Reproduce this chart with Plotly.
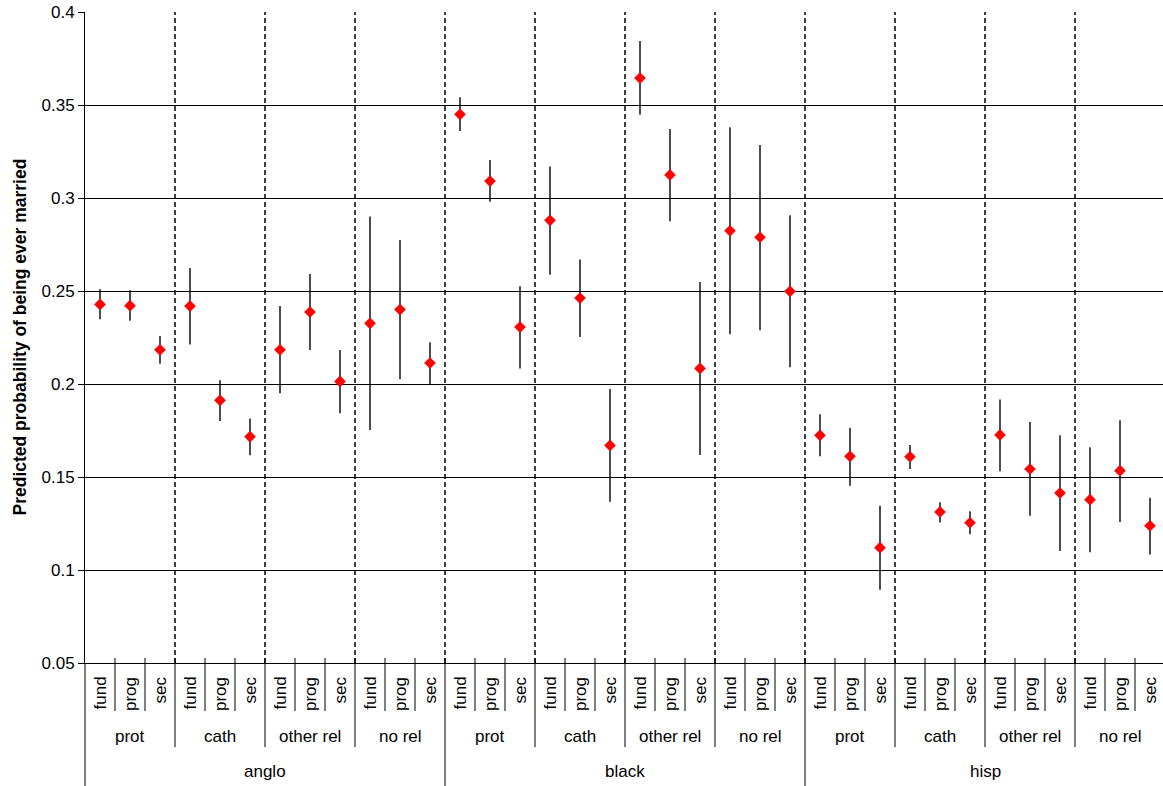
import plotly.graph_objects as go

# ---------------- data ----------------
races = ["anglo", "black", "hisp"]
religions = ["prot", "cath", "other rel", "no rel"]
subtypes = ["fund", "prog", "sec"]

means = [0.2428, 0.2421, 0.2184, 0.2419, 0.1912, 0.1717, 0.2184, 0.2387, 0.2014, 0.2326, 0.2400, 0.2113,
         0.3450, 0.3091, 0.2306, 0.2880, 0.2462, 0.1670, 0.3645, 0.3124, 0.2084, 0.2824, 0.2789, 0.2498,
         0.1724, 0.1611, 0.1120, 0.1609, 0.1312, 0.1254, 0.1726, 0.1543, 0.1414, 0.1378, 0.1534, 0.1238]
upper = [0.2509, 0.2504, 0.2258, 0.2624, 0.2020, 0.1815, 0.2419, 0.2591, 0.2183, 0.2900, 0.2774, 0.2224,
         0.3541, 0.3204, 0.2525, 0.3170, 0.2670, 0.1973, 0.3844, 0.3371, 0.2548, 0.3380, 0.3285, 0.2907,
         0.1837, 0.1765, 0.1346, 0.1672, 0.1364, 0.1316, 0.1916, 0.1796, 0.1724, 0.1660, 0.1805, 0.1389]
lower = [0.2348, 0.2340, 0.2109, 0.2213, 0.1801, 0.1617, 0.1950, 0.2183, 0.1843, 0.1753, 0.2025, 0.1998,
         0.3360, 0.2980, 0.2084, 0.2588, 0.2253, 0.1367, 0.3448, 0.2875, 0.1618, 0.2267, 0.2289, 0.2090,
         0.1611, 0.1453, 0.0894, 0.1543, 0.1256, 0.1192, 0.1531, 0.1292, 0.1102, 0.1095, 0.1258, 0.1084]

y_tickvals = [0.05, 0.1, 0.15, 0.2, 0.25, 0.3, 0.35, 0.4]
y_ticktext = ["0.05", "0.1", "0.15", "0.2", "0.25", "0.3", "0.35", "0.4"]
y_title = "Predicted probability of being ever married"

# ---------------- build ----------------
FONT = "Liberation Sans, Arial, sans-serif"
cats = []
for r in races:
    for g in religions:
        for s in subtypes:
            cats.append(f"{r}|{g}|{s}")
n = len(cats)
ns = len(subtypes)
ng = len(religions) * ns

fig = go.Figure()
fig.add_trace(go.Scatter(
    x=cats, y=means, mode="markers",
    marker=dict(symbol="diamond", color="#FF0000", size=9, line=dict(width=0)),
    error_y=dict(type="data", symmetric=False,
                 array=[u - m for u, m in zip(upper, means)],
                 arrayminus=[m - l for m, l in zip(means, lower)],
                 color="black", thickness=1.4, width=0),
    showlegend=False, hoverinfo="skip",
))

PLOT_H = 651.0
def py(px_below):  # pixels below the x axis -> paper y
    return -px_below / PLOT_H

shapes = []
annotations = []
for b in range(0, n):
    xpos = b - 0.5
    if b % ng == 0:
        depth = 125
    elif b % ns == 0:
        depth = 84
    else:
        depth = 48
    if b == 0:
        shapes.append(dict(type="line", xref="x domain", yref="paper", x0=0, x1=0,
                           y0=0, y1=py(depth), line=dict(color="black", width=1)))
    else:
        shapes.append(dict(type="line", xref="x", yref="paper", x0=xpos, x1=xpos,
                           y0=py(-5), y1=py(depth), line=dict(color="black", width=1)))
    if b % ns == 0 and b != 0:
        shapes.append(dict(type="line", xref="x", yref="paper", x0=xpos, x1=xpos,
                           y0=0, y1=1, line=dict(color="black", width=1.5, dash="5px,3px")))

for i, c in enumerate(cats):
    annotations.append(dict(xref="x", yref="paper", x=i, y=py(12), text=c.split("|")[2],
                            textangle=-90, showarrow=False, xanchor="center", yanchor="top",
                            font=dict(family=FONT, size=17, color="black")))
for k in range(n // ns):
    mid = k * ns + (ns - 1) / 2
    annotations.append(dict(xref="x", yref="paper", x=mid, y=py(73),
                            text=cats[k * ns].split("|")[1], showarrow=False,
                            xanchor="center", yanchor="middle",
                            font=dict(family=FONT, size=17, color="black")))
for k in range(n // ng):
    mid = k * ng + (ng - 1) / 2
    annotations.append(dict(xref="x", yref="paper", x=mid, y=py(108),
                            text=cats[k * ng].split("|")[0], showarrow=False,
                            xanchor="center", yanchor="middle",
                            font=dict(family=FONT, size=17, color="black")))
annotations.append(dict(xref="paper", yref="paper", x=0, y=0.5, xshift=-66, text=f"<b>{y_title}</b>",
                        textangle=-90, showarrow=False, xanchor="center", yanchor="middle",
                        font=dict(family=FONT, size=17.5, color="black")))

fig.update_layout(
    width=1163, height=786,
    margin=dict(l=85, r=0, t=12, b=123, pad=0),
    paper_bgcolor="white", plot_bgcolor="white",
    font=dict(family=FONT, size=17, color="black"),
    shapes=shapes, annotations=annotations,
    xaxis=dict(type="category", categoryorder="array", categoryarray=cats,
               range=[-0.5, n - 0.5 - 2 / 30], showgrid=False, zeroline=False,
               showticklabels=False, ticks="", showline=True, linecolor="black", linewidth=1),
    yaxis=dict(range=[0.05, 0.4], tickmode="array", tickvals=y_tickvals, ticktext=y_ticktext,
               showgrid=True, gridcolor="black", gridwidth=1, zeroline=False,
               showline=True, linecolor="black", linewidth=1,
               ticks="outside", ticklen=6, tickcolor="black", tickwidth=1,
               tickfont=dict(family=FONT, size=17, color="black")),
)

fig.write_html("out.html", config={"displayModeBar": False},
               post_script="document.body.style.margin='0';document.body.style.overflow='hidden';")
